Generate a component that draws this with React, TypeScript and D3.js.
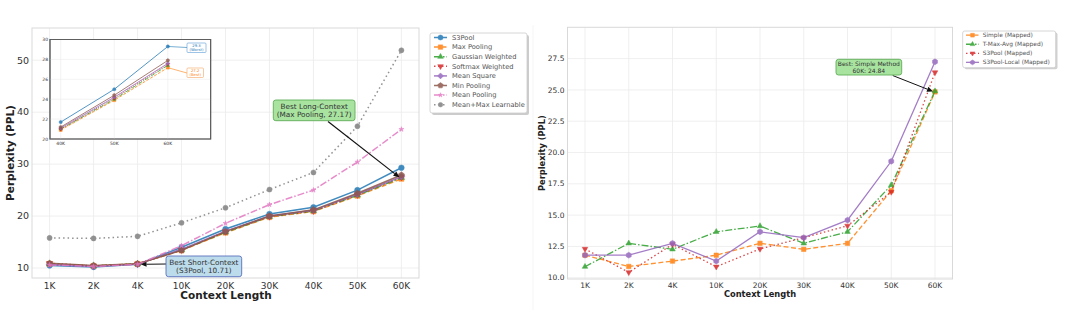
import React from "react";
import * as d3 from "d3";

// ---------- DATA ----------
const categories = ["1K", "2K", "4K", "10K", "20K", "30K", "40K", "50K", "60K"];

const leftNames = ["S3Pool", "Max Pooling", "Gaussian Weighted", "Softmax Weighted", "Mean Square", "Min Pooling", "Mean Pooling", "Mean+Max Learnable"];
const s3pool = [10.5, 10.2, 10.71, 14.0, 17.5, 20.4, 21.7, 25.0, 29.3];
const maxPooling = [10.8, 10.4, 10.8, 13.4, 16.8, 19.8, 20.9, 23.9, 27.17];
const gaussianWeighted = [10.8, 10.4, 10.8, 13.5, 16.9, 19.9, 21.0, 24.0, 27.4];
const softmaxWeighted = [10.9, 10.4, 10.8, 13.5, 17.0, 19.9, 21.0, 24.1, 27.5];
const meanSquare = [10.7, 10.3, 10.75, 13.6, 17.1, 20.0, 21.1, 24.2, 27.6];
const minPooling = [10.9, 10.5, 10.8, 13.4, 17.0, 20.0, 21.2, 24.4, 27.9];
const meanPooling = [10.6, 10.3, 10.7, 14.3, 18.6, 22.2, 25.0, 30.4, 36.7];
const meanMaxLearnable = [15.8, 15.7, 16.1, 18.7, 21.6, 25.1, 28.4, 37.3, 51.9];
const leftValues = [s3pool, maxPooling, gaussianWeighted, softmaxWeighted, meanSquare, minPooling, meanPooling, meanMaxLearnable];

const leftYTicks = [10, 20, 30, 40, 50];
const insetCategories = ["40K", "50K", "60K"];
const insetYTicks = [20, 22, 24, 26, 28, 30];

const rightNames = ["Simple (Mapped)", "T-Max-Avg (Mapped)", "S3Pool (Mapped)", "S3Pool-Local (Mapped)"];
const simpleMapped = [11.8, 10.9, 11.33, 11.8, 12.75, 12.27, 12.75, 16.95, 24.84];
const tMaxAvgMapped = [10.88, 12.75, 12.27, 13.67, 14.13, 12.75, 13.67, 17.4, 24.9];
const s3poolMapped = [12.3, 10.43, 12.67, 10.88, 12.3, 13.2, 14.15, 16.85, 26.4];
const s3poolLocalMapped = [11.8, 11.8, 12.75, 11.33, 13.67, 13.2, 14.6, 19.3, 27.25];
const rightValues = [simpleMapped, tMaxAvgMapped, s3poolMapped, s3poolLocalMapped];
const rightYTicks = [10, 12.5, 15, 17.5, 20, 22.5, 25, 27.5];

// ---------- STYLES ----------
type Style = { color: string; dash: string; marker: string; ms?: number };
const leftStyles: Style[] = [
  { color: "#1f77b4", dash: "", marker: "circle" },
  { color: "#ff7f0e", dash: "5,2.5", marker: "square" },
  { color: "#2ca02c", dash: "7,2,1.5,2", marker: "triup" },
  { color: "#d62728", dash: "1.5,2.5", marker: "tridown" },
  { color: "#9467bd", dash: "", marker: "diamond" },
  { color: "#8c564b", dash: "", marker: "pentagon" },
  { color: "#e377c2", dash: "7,2,1.5,2", marker: "star", ms: 0.65 },
  { color: "#7f7f7f", dash: "1.5,3", marker: "circle", ms: 0.9 },
];
const rightStyles: Style[] = [
  { color: "#ff7f0e", dash: "5,2.5", marker: "square" },
  { color: "#2ca02c", dash: "7,2,1.5,2", marker: "triup" },
  { color: "#d62728", dash: "1.5,2.5", marker: "tridown" },
  { color: "#9467bd", dash: "", marker: "hexagon" },
];

const FONT = "DejaVu Sans, Liberation Sans, sans-serif";
const TXT = "#333";
const GRID = "#ebebeb";

function polygon(n: number, r: number, rot = -Math.PI / 2) {
  const pts: string[] = [];
  for (let i = 0; i < n; i++) {
    const a = rot + (i * 2 * Math.PI) / n;
    pts.push(`${(r * Math.cos(a)).toFixed(2)},${(r * Math.sin(a)).toFixed(2)}`);
  }
  return "M" + pts.join("L") + "Z";
}
function markerPath(kind: string, s: number) {
  switch (kind) {
    case "circle": return d3.symbol(d3.symbolCircle, s * s * 0.8)()!;
    case "square": return d3.symbol(d3.symbolSquare, s * s * 0.8)()!;
    case "triup": return polygon(3, s * 0.65);
    case "tridown": return polygon(3, s * 0.65, Math.PI / 2);
    case "diamond": return polygon(4, s * 0.6);
    case "pentagon": return polygon(5, s * 0.58);
    case "hexagon": return polygon(6, s * 0.58);
    case "star": return d3.symbol(d3.symbolStar, s * s * 0.6)()!;
  }
  return d3.symbol(d3.symbolCircle, s * s)()!;
}

function Marker({ x, y, st, s }: { x: number; y: number; st: Style; s: number }) {
  return <path d={markerPath(st.marker, s * (st.ms ?? 1))} transform={`translate(${x},${y})`} fill={st.color} stroke={st.color} strokeWidth={0.5} />;
}

function Arrow({ x1, y1, x2, y2, w = 1.1 }: { x1: number; y1: number; x2: number; y2: number; w?: number }) {
  const a = Math.atan2(y2 - y1, x2 - x1);
  const L = 6, H = 2.6;
  const bx = x2 - L * Math.cos(a), by = y2 - L * Math.sin(a);
  const p1 = [bx + H * Math.sin(a), by - H * Math.cos(a)];
  const p2 = [bx - H * Math.sin(a), by + H * Math.cos(a)];
  return (
    <g>
      <line x1={x1} y1={y1} x2={bx} y2={by} stroke="#111" strokeWidth={w} />
      <path d={`M${x2},${y2}L${p1[0]},${p1[1]}L${p2[0]},${p2[1]}Z`} fill="#111" />
    </g>
  );
}

function AnnBox({ x, y, w, h, fill, stroke, lines, fs }: { x: number; y: number; w: number; h: number; fill: string; stroke: string; lines: string[]; fs: number }) {
  const cx = x + w / 2;
  const lh = fs * 1.2;
  const y0 = y + h / 2 - ((lines.length - 1) * lh) / 2;
  return (
    <g>
      <rect x={x} y={y} width={w} height={h} rx={2.5} fill={fill} stroke={stroke} strokeWidth={0.9} />
      {lines.map((t, i) => (
        <text key={i} x={cx} y={y0 + i * lh} dy="0.35em" textAnchor="middle" fontSize={fs} fill={TXT} fontFamily={FONT}>{t}</text>
      ))}
    </g>
  );
}

export default function App() {
  // ----- left panel -----
  const L = { x0: 32, x1: 419, y0: 28, y1: 278 };
  const xL = d3.scalePoint<string>().domain(categories).range([L.x0, L.x1]).padding(0.4);
  const yL = d3.scaleLinear().domain([8.08, 56.2]).range([L.y1, L.y0]);
  const lineL = d3.line<number>().x((_, i) => xL(categories[i])!).y((d) => yL(d));

  // inset
  const I = { x0: 50, x1: 210.7, y0: 39.5, y1: 139 };
  const xI = d3.scaleLinear().domain([-0.2, 2.8]).range([I.x0, I.x1]);
  const yI = d3.scaleLinear().domain([20, 30]).range([I.y1, I.y0]);
  const off = categories.length - insetCategories.length;
  const lineI = d3.line<number>().x((_, i) => xI(i)).y((d) => yI(d));

  // ----- right panel -----
  const R = { x0: 567.5, x1: 952.5, y0: 27.3, y1: 279 };
  const xR = d3.scalePoint<string>().domain(categories).range([R.x0, R.x1]).padding(0.4);
  const yR = d3.scaleLinear().domain([9.9, 30.0]).range([R.y1, R.y0]);
  const lineR = d3.line<number>().x((_, i) => xR(categories[i])!).y((d) => yR(d));

  const bestLongIdx = 8;
  const bestShortIdx = 2;

  return (
    <svg width={1080} height={334} style={{ position: "absolute", left: 0, top: 0, background: "#fff" }} fontFamily={FONT}>
      <rect width={1080} height={334} fill="#fff" />

      {/* ===== LEFT ===== */}
      <g>
        {leftYTicks.map((t) => (
          <g key={t}>
            <line x1={L.x0} x2={L.x1} y1={yL(t)} y2={yL(t)} stroke={GRID} strokeWidth={0.8} />
            <text x={29} y={yL(t)} dy="0.35em" textAnchor="end" fontSize={9.5} fill={TXT}>{t}</text>
          </g>
        ))}
        {categories.map((c) => (
          <g key={c}>
            <line x1={xL(c)} x2={xL(c)} y1={L.y0} y2={L.y1} stroke={GRID} strokeWidth={0.8} />
            <text x={xL(c)} y={289} textAnchor="middle" fontSize={9} fill={TXT}>{c}</text>
          </g>
        ))}
        <rect x={L.x0} y={L.y0} width={L.x1 - L.x0} height={L.y1 - L.y0} fill="none" stroke="#d9d9d9" strokeWidth={1} />

        {leftValues.map((vals, si) => {
          const st = leftStyles[si];
          return (
            <g key={si} opacity={0.85}>
              <path d={lineL(vals)!} fill="none" stroke={st.color} strokeWidth={1.5} strokeDasharray={st.dash} />
              {vals.map((v, i) => <Marker key={i} x={xL(categories[i])!} y={yL(v)} st={st} s={5.6} />)}
            </g>
          );
        })}

        <text x={226} y={299} textAnchor="middle" fontSize={10.5} fontWeight="bold" fill="#222">Context Length</text>
        <text transform={`translate(14,${(L.y0 + L.y1) / 2}) rotate(-90)`} textAnchor="middle" fontSize={10.5} fontWeight="bold" fill="#222">Perplexity (PPL)</text>

        {/* annotations */}
        <Arrow x1={328} y1={121.5} x2={xL(categories[bestLongIdx])! - 2} y2={yL(maxPooling[bestLongIdx]) - 1.5} w={1.2} />
        <AnnBox x={273.3} y={100} w={81.7} h={20.7} fill="#a8e4a0" stroke="#5fae57" lines={["Best Long-Context", "(Max Pooling, 27.17)"]} fs={7.3} />
        <Arrow x1={166} y1={264} x2={xL(categories[bestShortIdx])! + 3} y2={yL(s3pool[bestShortIdx])} w={1} />
        <AnnBox x={166} y={256} w={75.7} h={20.7} fill="#bcdcec" stroke="#5a6fbd" lines={["Best Short-Context", "(S3Pool, 10.71)"]} fs={7.3} />

        {/* inset */}
        <g>
          <rect x={I.x0} y={I.y0} width={I.x1 - I.x0} height={I.y1 - I.y0} fill="#fff" stroke="#555" strokeWidth={0.9} />
          {insetYTicks.map((t) => (
            <g key={t}>
              <line x1={I.x0} x2={I.x1} y1={yI(t)} y2={yI(t)} stroke={GRID} strokeWidth={0.6} />
              <text x={I.x0 - 2} y={yI(t)} dy="0.35em" textAnchor="end" fontSize={4.5} fill={TXT}>{t}</text>
            </g>
          ))}
          {insetCategories.map((c, i) => (
            <g key={c}>
              <line x1={xI(i)} x2={xI(i)} y1={I.y0} y2={I.y1} stroke={GRID} strokeWidth={0.6} />
              <text x={xI(i)} y={I.y1 + 6} textAnchor="middle" fontSize={4.5} fill={TXT}>{c}</text>
            </g>
          ))}
          <rect x={I.x0} y={I.y0} width={I.x1 - I.x0} height={I.y1 - I.y0} fill="none" stroke="#555" strokeWidth={0.9} />
          {leftValues.slice(0, 6).map((vals, si) => {
            const st = leftStyles[si];
            const sub = vals.slice(off);
            return (
              <g key={si} opacity={0.85}>
                <path d={lineI(sub)!} fill="none" stroke={st.color} strokeWidth={0.9} strokeDasharray={si === 0 ? "" : st.dash.split(",").map((d) => +d * 0.6).join(",")} />
                {sub.map((v, i) => <Marker key={i} x={xI(i)} y={yI(v)} st={st} s={3.2} />)}
              </g>
            );
          })}
          <line x1={xI(2)} y1={yI(s3pool[8])} x2={187} y2={47.5} stroke="#1f77b4" strokeWidth={0.6} />
          <rect x={187} y={43} width={19} height={9.5} fill="#fff" stroke="#5b9bd5" strokeWidth={0.6} rx={1} />
          <text x={196.5} y={46} textAnchor="middle" dy="0.35em" fontSize={3.8} fill="#1f77b4">29.3</text>
          <text x={196.5} y={49.8} textAnchor="middle" dy="0.35em" fontSize={3.8} fill="#1f77b4">(Worst)</text>
          <line x1={xI(2)} y1={yI(maxPooling[8])} x2={187} y2={73} stroke="#ff7f0e" strokeWidth={0.6} />
          <rect x={187} y={68} width={16.5} height={9.5} fill="#fff" stroke="#f4a460" strokeWidth={0.6} rx={1} />
          <text x={195.2} y={71} textAnchor="middle" dy="0.35em" fontSize={3.8} fill="#ff7f0e">27.2</text>
          <text x={195.2} y={74.8} textAnchor="middle" dy="0.35em" fontSize={3.8} fill="#ff7f0e">(Best)</text>
        </g>

        {/* legend */}
        <g>
          <rect x={432} y={35} width={97} height={80} rx={2} fill="#999" opacity={0.5} />
          <rect x={430} y={33} width={97} height={80} rx={2} fill="#fff" stroke="#ccc" strokeWidth={0.8} />
          {leftNames.map((n, i) => {
            const st = leftStyles[i];
            const y = 37.5 + i * 9.6;
            return (
              <g key={n} opacity={0.85}>
                <line x1={434} x2={447} y1={y} y2={y} stroke={st.color} strokeWidth={1.5} strokeDasharray={st.dash} />
                <Marker x={440.5} y={y} st={st} s={5} />
                <text x={452} y={y} dy="0.35em" fontSize={6.7} fill={TXT}>{n}</text>
              </g>
            );
          })}
        </g>
      </g>

      <line x1={533} x2={533} y1={25} y2={310} stroke="#f2f2f2" strokeWidth={0.8} />

      {/* ===== RIGHT ===== */}
      <g>
        {rightYTicks.map((t) => (
          <g key={t}>
            <line x1={R.x0} x2={R.x1} y1={yR(t)} y2={yR(t)} stroke={GRID} strokeWidth={0.8} />
            <text x={564.5} y={yR(t)} dy="0.35em" textAnchor="end" fontSize={7.5} fill={TXT}>{t.toFixed(1)}</text>
          </g>
        ))}
        {categories.map((c) => (
          <g key={c}>
            <line x1={xR(c)} x2={xR(c)} y1={R.y0} y2={R.y1} stroke={GRID} strokeWidth={0.8} />
            <text x={xR(c)} y={288} textAnchor="middle" fontSize={7.5} fill={TXT}>{c}</text>
          </g>
        ))}
        <rect x={R.x0} y={R.y0} width={R.x1 - R.x0} height={R.y1 - R.y0} fill="none" stroke="#d9d9d9" strokeWidth={1} />

        {rightValues.map((vals, si) => {
          const st = rightStyles[si];
          return (
            <g key={si} opacity={0.85}>
              <path d={lineR(vals)!} fill="none" stroke={st.color} strokeWidth={1.3} strokeDasharray={st.dash} />
              {vals.map((v, i) => <Marker key={i} x={xR(categories[i])!} y={yR(v)} st={st} s={5} />)}
            </g>
          );
        })}

        <text x={760} y={297} textAnchor="middle" fontSize={8.3} fontWeight="bold" fill="#222">Context Length</text>
        <text transform={`translate(545,${(R.y0 + R.y1) / 2}) rotate(-90)`} textAnchor="middle" fontSize={8.3} fontWeight="bold" fill="#222">Perplexity (PPL)</text>

        <Arrow x1={892.7} y1={75.5} x2={xR("60K")! - 2} y2={yR(simpleMapped[8]) - 0.5} w={1} />
        <AnnBox x={836} y={59.3} w={65.7} h={15.7} fill="#a8e4a0" stroke="#5fae57" lines={["Best: Simple Method", "60K: 24.84"]} fs={6} />

        {/* legend */}
        <g>
          <rect x={964.5} y={32.5} width={93} height={36.7} rx={2} fill="#999" opacity={0.45} />
          <rect x={962.7} y={31} width={93} height={36.7} rx={2} fill="#fff" stroke="#ccc" strokeWidth={0.8} />
          {rightNames.map((n, i) => {
            const st = rightStyles[i];
            const y = 35.2 + i * 9.05;
            return (
              <g key={n} opacity={0.85}>
                <line x1={966} x2={979} y1={y} y2={y} stroke={st.color} strokeWidth={1.3} strokeDasharray={st.dash} />
                <Marker x={972.5} y={y} st={st} s={4.2} />
                <text x={982.7} y={y} dy="0.35em" fontSize={5.9} fill={TXT}>{n}</text>
              </g>
            );
          })}
        </g>
      </g>
    </svg>
  );
}
